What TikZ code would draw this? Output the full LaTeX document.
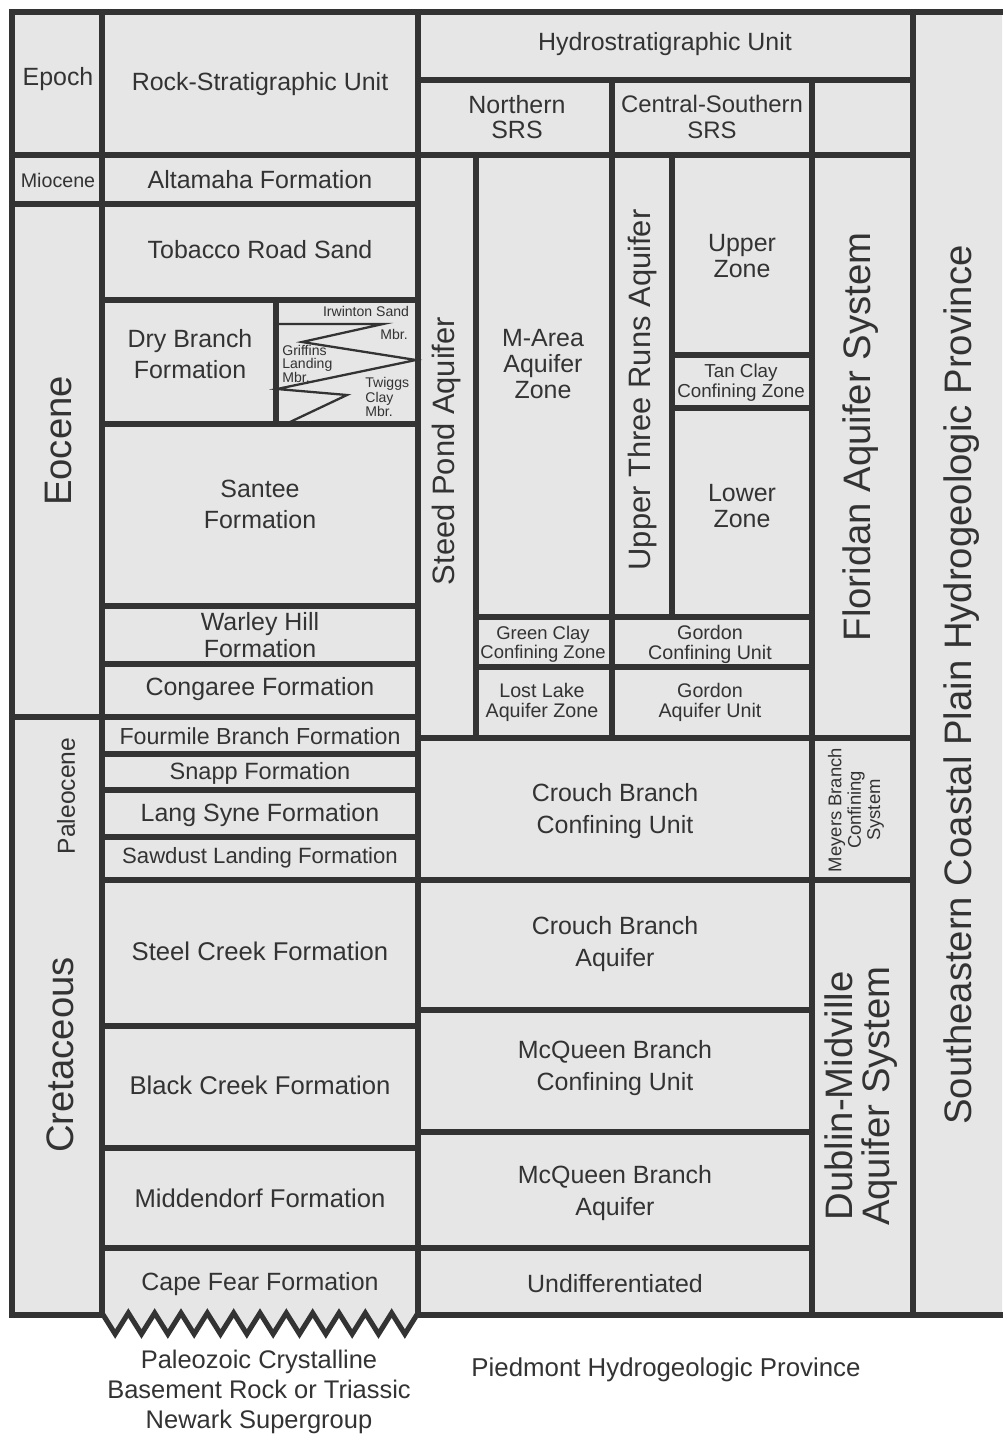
\documentclass[tikz,border=0pt]{standalone}
\usepackage{fontspec}
\setmainfont{Liberation Sans}
\usepackage{tikz}

\definecolor{ink}{HTML}{333333}
\definecolor{cellgray}{HTML}{E6E6E6}

\begin{document}
\begin{tikzpicture}[
        x=0.02cm,y=-0.02cm,
        every node/.style={text=ink,align=center,inner sep=0pt},
        rule/.style={draw=ink,line width=2.9pt,line cap=rect},
        outerrule/.style={draw=ink,line width=3.3pt,line cap=rect},
        thinrule/.style={draw=ink,line width=1.3pt,line join=miter},
        lab/.style={font=\fontsize{14.2}{16}\selectfont},
        pair/.style={font=\fontsize{14.2}{14.7}\selectfont},
        wide/.style={font=\fontsize{14.2}{17.7}\selectfont},
        small/.style={font=\fontsize{11.2}{11.3}\selectfont},
        mbr/.style={font=\fontsize{8}{7.3}\selectfont},
        side/.style={rotate=90,font=\fontsize{21.8}{21.5}\selectfont},
        column/.style={rotate=90,font=\fontsize{17.6}{18}\selectfont}
    ]
    \useasboundingbox (0,0) rectangle (1002,1437);

    % grey ground, cut by the zigzag below Cape Fear
    \fill[cellgray] (102,1313)
        \foreach \k in {1,...,23} {-- ({102+\k*13.1667},{1313+21*mod(\k,2)})}
        -- (418,1313) -- (418,1315) -- (1002,1315) -- (1002,12) -- (12,12)
        -- (12,1315) -- (102,1315) -- cycle;

    % outer frame
    \draw[outerrule] (12,12) -- (1002,12);
    \draw[outerrule] (12,12) -- (12,1315) -- (102,1315);
    \draw[outerrule] (418,1315) -- (1002,1315);
    \draw[rule,line cap=butt,line join=miter] (102,1313)
        \foreach \k in {1,...,23} {-- ({102+\k*13.1667},{1313+21*mod(\k,2)})}
        -- (418,1313);

    % vertical rules
    \draw[rule] (102,12) -- (102,1313);
    \draw[rule] (418,12) -- (418,1315);
    \draw[outerrule] (913,12) -- (913,1315);
    \draw[rule] (276,300) -- (276,424);
    \draw[rule] (476,155) -- (476,738);
    \draw[outerrule] (612,80) -- (612,738);
    \draw[rule] (672,155) -- (672,617);
    \draw[rule] (812,80) -- (812,1315);

    % horizontal rules, rock column
    \draw[rule] (12,155) -- (913,155);
    \draw[rule] (12,204) -- (418,204);
    \foreach \y in {300,424,606,664,754,790,837,1026,1148}
        \draw[rule] (102,\y) -- (418,\y);
    \draw[rule] (12,717) -- (418,717);
    \draw[rule] (102,880) -- (913,880);
    \draw[rule] (102,1248) -- (812,1248);

    % horizontal rules, hydro columns
    \draw[rule] (418,80) -- (913,80);
    \draw[rule] (672,355) -- (812,355);
    \draw[rule] (672,408) -- (812,408);
    \draw[rule] (476,617) -- (812,617);
    \draw[rule] (476,667) -- (812,667);
    \draw[rule] (418,738) -- (913,738);
    \draw[rule] (418,1010) -- (812,1010);
    \draw[rule] (418,1132) -- (812,1132);

    % Dry Branch members
    \draw[thinrule] (276,324) -- (383,324) -- (302,342) -- (416,360)
        -- (277,389) -- (347,395) -- (290,422);

    % header
    \node[lab] (epoch) at (58,79) {Epoch};
    \node[lab] (rsu) at (260,84) {Rock-Stratigraphic Unit};
    \node[lab] (hsu) at (665,44) {Hydrostratigraphic Unit};
    \node[pair] (north) at (517,117) {Northern\\SRS};
    \node[font=\fontsize{13.6}{14.7}\selectfont] (central) at (712,117) {Central-Southern\\SRS};

    % epochs
    \node[font=\fontsize{11.2}{12}\selectfont] (miocene) at (58,180) {Miocene};
    \node[side] (eocene) at (59,441) {Eocene};
    \node[rotate=90,font=\fontsize{14}{14}\selectfont] (paleocene) at (66,796) {Paleocene};
    \node[side] (cretaceous) at (60,1055) {Cretaceous};

    % rock-stratigraphic units
    \node[lab] (altamaha) at (260,180) {Altamaha Formation};
    \node[lab] (tobacco) at (260,250) {Tobacco Road Sand};
    \node[wide] (drybranch) at (190,354) {Dry Branch\\Formation};
    \node[mbr] (irwinton) at (366,311) {Irwinton Sand};
    \node[mbr] (irwmbr) at (394,334) {Mbr.};
    \node[mbr,align=left,anchor=west] (griffins) at (282,364) {Griffins\\Landing\\Mbr.};
    \node[mbr,align=left,anchor=west] (twiggs) at (365,397) {Twiggs\\Clay\\Mbr.};
    \node[wide] (santee) at (260,504) {Santee\\Formation};
    \node[font=\fontsize{14.2}{15.3}\selectfont] (warley) at (260,635) {Warley Hill\\Formation};
    \node[lab] (congaree) at (260,689) {Congaree Formation};
    \node[font=\fontsize{13.2}{14}\selectfont] (fourmile) at (260,736) {Fourmile Branch Formation};
    \node[font=\fontsize{13.4}{14}\selectfont] (snapp) at (260,773) {Snapp Formation};
    \node[lab] (langsyne) at (260,815) {Lang Syne Formation};
    \node[font=\fontsize{12.6}{14}\selectfont] (sawdust) at (260,858) {Sawdust Landing Formation};
    \node[font=\fontsize{14.6}{16}\selectfont] (steelcreek) at (260,951) {Steel Creek Formation};
    \node[font=\fontsize{14.6}{16}\selectfont] (blackcreek) at (260,1085) {Black Creek Formation};
    \node[font=\fontsize{14.6}{16}\selectfont] (middendorf) at (260,1198) {Middendorf Formation};
    \node[lab] (capefear) at (260,1284) {Cape Fear Formation};

    % hydrostratigraphic units
    \node[column] (steedpond) at (447,451) {Steed Pond Aquifer};
    \node[pair] (marea) at (543,364) {M-Area\\Aquifer\\Zone};
    \node[column] (utr) at (642,390) {Upper Three Runs Aquifer};
    \node[pair] (upperzone) at (742,256) {Upper\\Zone};
    \node[font=\fontsize{10.7}{11.3}\selectfont] (tanclay) at (741,383) {Tan Clay\\Confining Zone};
    \node[pair] (lowerzone) at (742,506) {Lower\\Zone};
    \node[font=\fontsize{10.5}{11}\selectfont] (greenclay) at (543,644) {Green Clay\\Confining Zone};
    \node[small] (gordoncu) at (710,644) {Gordon\\Confining Unit};
    \node[small] (lostlake) at (542,702) {Lost Lake\\Aquifer Zone};
    \node[small] (gordonau) at (710,702) {Gordon\\Aquifer Unit};
    \node[side] (floridan) at (861,437) {Floridan Aquifer System};
    \node[wide] (crouchcu) at (615,811) {Crouch Branch\\Confining Unit};
    \node[rotate=90,font=\fontsize{10.5}{11}\selectfont] (meyers) at (856,810) {Meyers Branch\\Confining\\System};
    \node[wide] (crouchaq) at (615,944) {Crouch Branch\\Aquifer};
    \node[wide] (mcqueencu) at (615,1068) {McQueen Branch\\Confining Unit};
    \node[wide] (mcqueenaq) at (615,1193) {McQueen Branch\\Aquifer};
    \node[lab] (undiff) at (615,1284) {Undifferentiated};
    \node[side] (dublin) at (861,1096) {Dublin-Midville\\Aquifer System};
    \node[side] (secp) at (962,685) {Southeastern Coastal Plain Hydrogeologic Province};

    % below the frame
    \node[font=\fontsize{14.5}{17}\selectfont] (basement) at (259,1392) {Paleozoic Crystalline\\Basement Rock or Triassic\\Newark Supergroup};
    \node[font=\fontsize{14.7}{16}\selectfont] (piedmont) at (666,1370) {Piedmont Hydrogeologic Province};
\end{tikzpicture}
\end{document}
